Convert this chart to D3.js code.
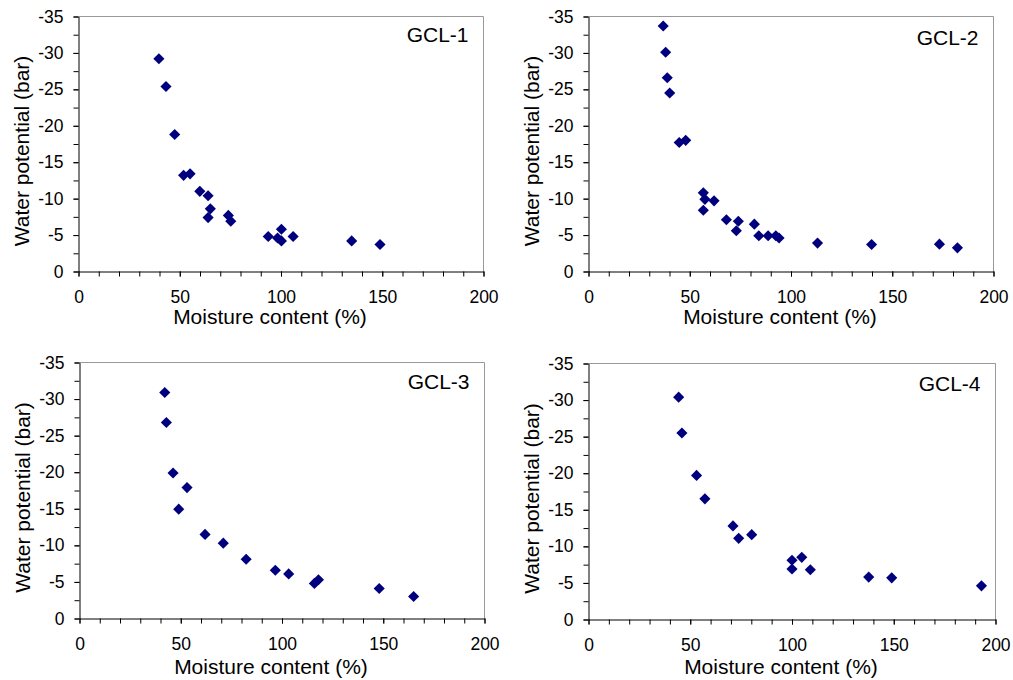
<!DOCTYPE html>
<html>
<head>
<meta charset="utf-8">
<script src="https://cdn.jsdelivr.net/npm/d3@7"></script>
<style>
  html, body { margin: 0; padding: 0; background: #fff; }
  svg { display: block; font-family: "Liberation Sans", Arial, sans-serif; }
</style>
</head>
<body>
<svg id="chart" width="1013" height="680"></svg>
<script>
// values (moisture %, water potential bar)
const gcl1Moisture  = [39.7, 43.2, 47.5, 51.9, 55.1, 59.9, 64.0, 65.1, 64.0, 74.0, 75.2, 93.7, 98.3, 100.2, 100.2, 106.0, 134.9, 148.9];
const gcl1Potential = [-29.2, -25.4, -18.8, -13.2, -13.4, -11.0, -10.4, -8.6, -7.4, -7.7, -6.9, -4.8, -4.6, -5.8, -4.2, -4.8, -4.2, -3.7];

const gcl2Moisture  = [36.9, 38.1, 38.9, 40.1, 44.8, 48.0, 56.7, 57.5, 62.0, 56.7, 68.1, 74.0, 73.0, 81.9, 84.1, 88.7, 92.5, 94.1, 113.1, 139.8, 173.3, 182.2];
const gcl2Potential = [-33.7, -30.1, -26.6, -24.5, -17.7, -18.0, -10.8, -9.9, -9.7, -8.4, -7.1, -6.9, -5.6, -6.5, -4.9, -4.9, -4.9, -4.6, -3.9, -3.7, -3.75, -3.25];

const gcl3Moisture  = [42.1, 42.9, 46.2, 53.1, 49.0, 62.0, 71.0, 82.3, 96.7, 103.3, 116.0, 118.0, 148.0, 165.0];
const gcl3Potential = [-30.9, -26.8, -19.9, -17.9, -14.95, -11.5, -10.3, -8.1, -6.6, -6.1, -4.8, -5.3, -4.1, -3.0];

const gcl4Moisture  = [44.3, 45.9, 53.1, 57.2, 71.0, 73.8, 80.2, 100.0, 104.8, 100.0, 109.0, 137.7, 149.0, 193.1];
const gcl4Potential = [-30.4, -25.5, -19.7, -16.5, -12.8, -11.1, -11.6, -8.1, -8.5, -6.9, -6.8, -5.8, -5.7, -4.6];

const panelNames = ["GCL-1", "GCL-2", "GCL-3", "GCL-4"];
const xTicks = [0, 50, 100, 150, 200];
const yTicks = [0, -5, -10, -15, -20, -25, -30, -35];
const xTitle = "Moisture content (%)";
const yTitle = "Water potential (bar)";

const series = [
  [gcl1Moisture, gcl1Potential],
  [gcl2Moisture, gcl2Potential],
  [gcl3Moisture, gcl3Potential],
  [gcl4Moisture, gcl4Potential]
];

// plot boxes: left, right, top, bottom
const boxes = [
  {l: 78.5, r: 483.5, t: 16.5, b: 271.5, nameY: 42, xtY: 324},
  {l: 588.5, r: 993.5, t: 16.5, b: 271.5, nameY: 45, xtY: 324},
  {l: 79.5, r: 484.5, t: 362.5, b: 618.5, nameY: 389, xtY: 673.5},
  {l: 588.5, r: 995.5, t: 363.5, b: 619.5, nameY: 390.5, xtY: 673.5}
];

const svg = d3.select("#chart");
const marker = d3.symbol(d3.symbolSquare, 62);

boxes.forEach((bx, i) => {
  const g = svg.append("g");
  const x = d3.scaleLinear().domain([0, 200]).range([bx.l, bx.r]);
  const y = d3.scaleLinear().domain([0, -35]).range([bx.b, bx.t]);

  // grey frame on top and right
  g.append("path")
    .attr("d", `M${bx.l},${bx.t}H${bx.r}V${bx.b}`)
    .attr("fill", "none")
    .attr("stroke", "#999")
    .attr("stroke-width", 1);

  // minor ticks
  g.append("g")
    .attr("transform", `translate(0,${bx.b})`)
    .call(d3.axisBottom(x).tickValues(d3.range(0, 201, 10)).tickSize(5).tickFormat("").tickSizeOuter(0))
    .call(a => a.select(".domain").remove());
  g.append("g")
    .attr("transform", `translate(${bx.l},0)`)
    .call(d3.axisLeft(y).tickValues(d3.range(0, -35.1, -2.5)).tickSize(5).tickFormat("").tickSizeOuter(0))
    .call(a => a.select(".domain").remove());

  // main axes
  const xa = g.append("g")
    .attr("transform", `translate(0,${bx.b})`)
    .call(d3.axisBottom(x).tickValues(xTicks).tickSize(5).tickPadding(14).tickSizeOuter(0).tickFormat(d => String(d)));
  const ya = g.append("g")
    .attr("transform", `translate(${bx.l},0)`)
    .call(d3.axisLeft(y).tickValues(yTicks).tickSize(5).tickPadding(10).tickSizeOuter(0).tickFormat(d => String(d)));

  g.selectAll(".tick line").attr("stroke", "#000");
  g.selectAll(".domain").attr("stroke", "#000");
  [xa, ya].forEach(a => a.selectAll("text")
    .attr("font-size", 17.5)
    .attr("font-family", "'Liberation Sans', Arial, sans-serif")
    .attr("fill", "#000"));

  // axis titles
  g.append("text")
    .attr("x", (bx.l + bx.r) / 2 - 11)
    .attr("y", bx.xtY)
    .attr("text-anchor", "middle")
    .attr("font-size", 21)
    .text(xTitle);
  g.append("text")
    .attr("transform", `translate(${bx.l - 50},${(bx.t + bx.b) / 2 + 7}) rotate(-90)`)
    .attr("text-anchor", "middle")
    .attr("font-size", 21)
    .text(yTitle);

  // panel label
  g.append("text")
    .attr("x", bx.r - 15)
    .attr("y", bx.nameY)
    .attr("text-anchor", "end")
    .attr("font-size", 21)
    .text(panelNames[i]);

  // points
  const [mx, wp] = series[i];
  g.append("g").selectAll("path")
    .data(mx.map((m, k) => [m, wp[k]]))
    .join("path")
    .attr("d", marker)
    .attr("transform", d => `translate(${x(d[0])},${y(d[1])}) rotate(45)`)
    .attr("fill", "#00007f");
});
</script>
</body>
</html>
